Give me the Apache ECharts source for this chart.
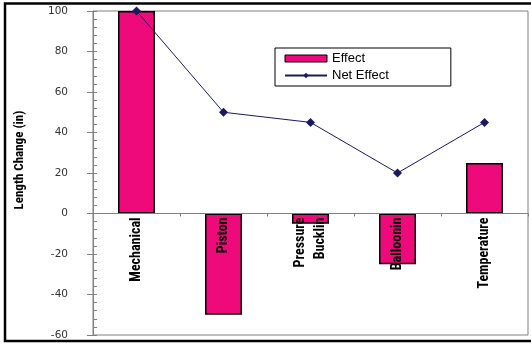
<!DOCTYPE html>
<html>
<head>
<meta charset="utf-8">
<script src="https://cdn.jsdelivr.net/npm/echarts@6/dist/echarts.min.js"></script>
<style>
  html, body { margin: 0; padding: 0; background: #fff; }
  #chart { width: 531px; height: 344px; }
</style>
</head>
<body>
<div id="chart"></div>
<script>
// Length change contributions (inches) by effect
const categories = ['Mechanical', 'Piston', 'Pressure\nBucklin', 'Balloonin', 'Temperature'];
const effectValues = [100, -50, -5, -25, 25];
const netEffectValues = [100, 50, 45, 20, 45];
const yTicks = { min: -60, max: 100, step: 20 };

const narrowBold = '"Roboto Condensed", "DejaVu Sans Condensed", sans-serif';
const plainFont = '"Liberation Sans", Arial, sans-serif';
const wideFont = '"DejaVu Sans", Verdana, sans-serif';

const W = 531, H = 344;
const gridBox = { left: 93, right: 3, top: 11, bottom: 9 };
// lift the category axis from the bottom edge up to the zero line
const plotHeight = H - gridBox.top - gridBox.bottom;
const zeroLift = plotHeight * (0 - yTicks.min) / (yTicks.max - yTicks.min);

const chart = echarts.init(document.getElementById('chart'), null, { renderer: 'canvas' });

chart.setOption({
  animation: false,
  backgroundColor: '#ffffff',
  grid: Object.assign({
    outerBoundsMode: 'none', containLabel: false,
    show: true, borderColor: '#808080', borderWidth: 1, backgroundColor: 'transparent'
  }, gridBox),
  graphic: [
    {
      type: 'rect', z: 100, silent: true,
      shape: { x: 5, y: 3.5, width: 560, height: 337.5 },
      style: { fill: null, stroke: '#000', lineWidth: 2.5 }
    },
    {
      type: 'text', z: 100, silent: true,
      x: 20, y: 160, rotation: Math.PI / 2,
      style: {
        text: 'Length Change (in)', fill: '#000',
        font: 'bold 13px ' + narrowBold,
        align: 'center', verticalAlign: 'middle'
      }
    }
  ],
  legend: {
    left: 275, top: 48,
    orient: 'vertical',
    backgroundColor: '#fff',
    borderColor: '#000', borderWidth: 1,
    padding: [4, 62, 4, 9],
    itemGap: 4,
    itemWidth: 42, itemHeight: 7,
    textStyle: { fontFamily: plainFont, fontSize: 13, color: '#000' },
    data: [
      { name: 'Effect', icon: 'rect', itemStyle: { borderColor: '#000', borderWidth: 1 } },
      { name: 'Net Effect' }
    ]
  },
  xAxis: {
    type: 'category', data: categories,
    position: 'bottom', offset: -zeroLift, z: 10,
    axisLine: { onZero: false, lineStyle: { color: '#808080', width: 1 } },
    axisTick: { show: true, length: 3, inside: false, lineStyle: { color: '#808080' } },
    axisLabel: {
      rotate: 90, margin: 4, interval: 0,
      fontFamily: narrowBold, fontWeight: 'bold', fontSize: 14, color: '#000', lineHeight: 20
    }
  },
  yAxis: [
    {
      type: 'value', min: yTicks.min, max: yTicks.max, interval: yTicks.step,
      axisLine: { show: true, lineStyle: { color: '#808080', width: 1 } },
      axisTick: { show: true, length: 6, inside: false, lineStyle: { color: '#808080' } },
      splitLine: { show: false },
      axisLabel: { margin: 25, fontFamily: wideFont, fontSize: 10.5, color: '#333' }
    },
    {
      type: 'value', min: yTicks.min, max: yTicks.max, interval: yTicks.step,
      position: 'left',
      axisLine: { show: false, onZero: false },
      axisTick: { show: true, length: 4, inside: true, lineStyle: { color: '#808080' } },
      minorTick: { show: true, splitNumber: 5, length: 4, lineStyle: { color: '#808080' } },
      splitLine: { show: false },
      axisLabel: { show: false }
    }
  ],
  series: [
    {
      name: 'Effect', type: 'bar', data: effectValues,
      yAxisIndex: 0,
      barWidth: 37,
      itemStyle: { color: '#EE0A7B', borderColor: '#000', borderWidth: 1.5 }
    },
    {
      name: 'Net Effect', type: 'line', data: netEffectValues,
      yAxisIndex: 0,
      symbol: 'diamond', symbolSize: 9,
      lineStyle: { color: '#1a1a60', width: 1 },
      itemStyle: { color: '#1a1a60' },
      z: 5
    }
  ]
});
</script>
</body>
</html>
